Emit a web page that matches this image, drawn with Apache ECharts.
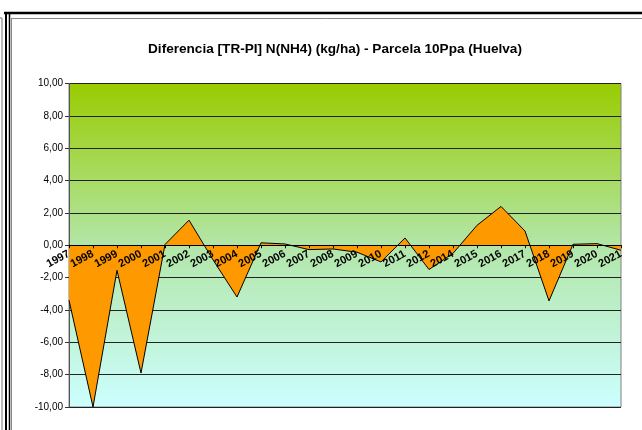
<!DOCTYPE html>
<html>
<head>
<meta charset="utf-8">
<script src="https://cdn.jsdelivr.net/npm/echarts@6/dist/echarts.min.js"></script>
<style>
html,body{margin:0;padding:0;background:#fff;}
#chart{width:642px;height:430px;}
</style>
</head>
<body>
<div id="chart"></div>
<script>
const titleText = 'Diferencia [TR-PI] N(NH4) (kg/ha) - Parcela 10Ppa (Huelva)';
const years = ['1997','1998','1999','2000','2001','2002','2003','2004','2005','2006','2007','2008','2009','2010','2011','2012','2014','2015','2016','2017','2018','2019','2020','2021'];
const diffValues = [-3.4,-10.0,-1.55,-7.9,0.05,1.55,-0.9,-3.2,0.15,0.08,-0.27,-0.23,-0.43,-1.03,0.45,-1.5,-0.5,1.23,2.4,0.88,-3.44,0.06,0.1,-0.31];
const yTicks = {min:-10, max:10, interval:2};

const gridTop = 83.5, gridBottom = 23, H = 430;
const plotH = H - gridTop - gridBottom;
const zeroOffset = -plotH * (0 - yTicks.min) / (yTicks.max - yTicks.min);

const chart = echarts.init(document.getElementById('chart'), null, {renderer:'canvas'});
const fmt = v => v.toFixed(2).replace('.', ',');
chart.setOption({
  animation:false,
  backgroundColor:'#ffffff',
  title:{
    text:titleText, left:330, top:37, textAlign:'center',
    textStyle:{fontFamily:'Liberation Sans, Arial', fontWeight:'bold', fontSize:13.6, color:'#000'}
  },
  graphic:[
    {type:'line', shape:{x1:4,y1:13,x2:642,y2:13}, style:{stroke:'#000',lineWidth:2.5}},
    {type:'line', shape:{x1:6,y1:13,x2:6,y2:430}, style:{stroke:'#000',lineWidth:2}},
    {type:'line', shape:{x1:9.5,y1:13,x2:9.5,y2:430}, style:{stroke:'#000',lineWidth:1.5}},
    {type:'line', shape:{x1:2,y1:18,x2:2,y2:430}, style:{stroke:'#777',lineWidth:1}},
    {type:'line', shape:{x1:0,y1:18,x2:2,y2:18}, style:{stroke:'#777',lineWidth:1}},
    {type:'line', shape:{x1:11.5,y1:18,x2:11.5,y2:430}, style:{stroke:'#888',lineWidth:1}},
    {type:'line', shape:{x1:11.5,y1:18.5,x2:642,y2:18.5}, style:{stroke:'#888',lineWidth:1}}
  ],
  grid:{
    left:69, right:21, top:gridTop, bottom:gridBottom, show:true,
    borderColor:'#808080', borderWidth:1,
    backgroundColor:{type:'linear',x:0,y:0,x2:0,y2:1,colorStops:[
      {offset:0,color:'#99CC00'},{offset:0.5,color:'#B2E6A8'},{offset:1,color:'#CCFFFF'}]}
  },
  xAxis:{
    type:'category', data:years, boundaryGap:false,
    position:'bottom', offset:zeroOffset, z:10,
    axisLine:{onZero:false, lineStyle:{color:'#000',width:1}},
    axisTick:{show:true, length:3, inside:false, lineStyle:{color:'#000'}},
    axisLabel:{rotate:28, margin:8, interval:0, fontFamily:'Liberation Sans, Arial', fontWeight:'bold', fontSize:11, color:'#000'},
    splitLine:{show:false}
  },
  yAxis:{
    type:'value', min:yTicks.min, max:yTicks.max, interval:yTicks.interval,
    axisLine:{show:true, lineStyle:{color:'#555'}},
    axisTick:{show:true, length:4, lineStyle:{color:'#333'}},
    axisLabel:{formatter:fmt, margin:6, fontFamily:'Liberation Sans, Arial', fontSize:10, color:'#000'},
    splitLine:{show:true, lineStyle:{color:'#222', width:1}}
  },
  series:[{
    type:'line', data:diffValues, symbol:'none', smooth:false,
    lineStyle:{color:'#000', width:1},
    areaStyle:{color:'#FF9900', opacity:1, origin:0},
    z:3
  }]
});
</script>
</body>
</html>
